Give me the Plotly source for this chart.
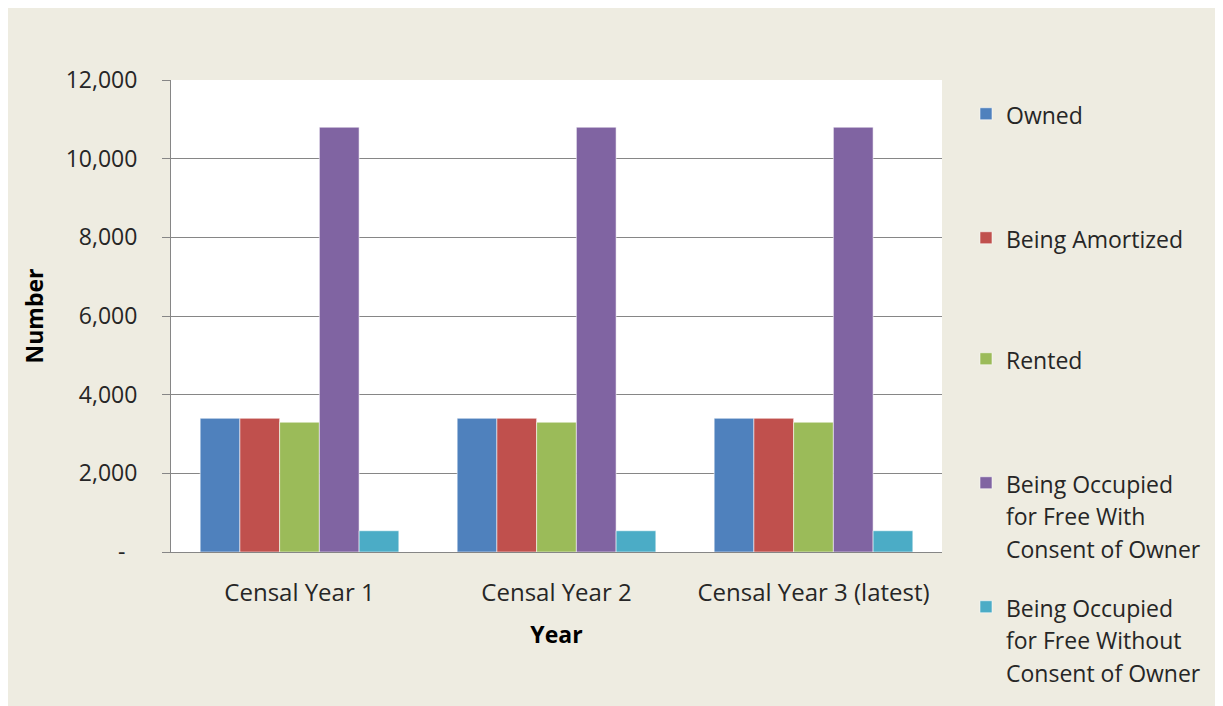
import plotly.graph_objects as go

categories = ["Censal Year 1", "Censal Year 2", "Censal Year 3 (latest)"]
series_names = [
    "Owned",
    "Being Amortized",
    "Rented",
    "Being Occupied<br>for Free With<br>Consent of Owner",
    "Being Occupied<br>for Free Without<br>Consent of Owner",
]
owned = [3400, 3400, 3400]
amortized = [3400, 3400, 3400]
rented = [3300, 3300, 3300]
free_with = [10800, 10800, 10800]
free_without = [540, 540, 540]
y_tickvals = [0, 2000, 4000, 6000, 8000, 10000, 12000]
y_ticktext = ["-\u00a0\u00a0", "2,000", "4,000", "6,000", "8,000", "10,000", "12,000"]

colors = ["#4F81BD", "#C0504D", "#9BBB59", "#8064A2", "#4BACC6"]
values = [owned, amortized, rented, free_with, free_without]

# page offset from default body margin
OX, OY = 8, 8
W, H = 1215, 698
L, R, T, B = 171 - OX, 942 - OX, 80 - OY, 553 - OY


def px_x(page_px):
    return (page_px - OX - L) / (R - L)


def px_y(page_py):
    return (B - (page_py - OY)) / (B - T)


FONT = "Open Sans"
TXT = "#262626"
LEG_SPAN = '<span style="font-size:23px">'

fig = go.Figure()
legend_ids = ["legend", "legend2", "legend3", "legend4", "legend5"]
for name, vals, col, lid in zip(series_names, values, colors, legend_ids):
    fig.add_trace(go.Bar(
        x=categories, y=vals,
        name=LEG_SPAN + name.replace("<br>", "</span><br>" + LEG_SPAN) + "</span>",
        marker=dict(color=col, line=dict(color="rgba(255,255,255,0.55)", width=1)),
        legend=lid,
    ))

legend_first_line = [114, 238, 359, 483, 607]
legend_left_px = 966
layout_legends = {}
for lid, py in zip(legend_ids, legend_first_line):
    layout_legends[lid] = dict(
        x=px_x(legend_left_px), xanchor="left",
        y=px_y(py - 23), yanchor="top",
        valign="top",
        bgcolor="rgba(0,0,0,0)",
        font=dict(family=FONT, size=25, color=TXT),
        itemwidth=30,
    )

fig.update_layout(
    width=W, height=H,
    margin=dict(l=L, r=W - R, t=T, b=H - B),
    paper_bgcolor="#EEECE1",
    plot_bgcolor="#FFFFFF",
    barmode="group",
    bargap=0.227,
    bargroupgap=0,
    showlegend=True,
    font=dict(family=FONT, size=23, color=TXT),
    **layout_legends,
)

fig.update_yaxes(
    range=[0, 12000],
    tickvals=y_tickvals, ticktext=y_ticktext,
    showgrid=True, gridcolor="#868686", gridwidth=1,
    showline=True, linecolor="#868686", linewidth=1,
    ticks="outside", ticklen=8, tickcolor="#868686",
    ticklabelstandoff=20,
    zeroline=False,
    tickfont=dict(family=FONT, size=23, color=TXT),
    title=dict(text="<b>Number</b>", font=dict(family=FONT, size=23, color="#000000"), standoff=15),
    automargin=False,
)
fig.update_xaxes(
    showline=True, linecolor="#868686", linewidth=1,
    ticks="", ticklabelstandoff=19,
    tickfont=dict(family=FONT, size=24, color=TXT),
    title=dict(text="<b>Year</b>", font=dict(family=FONT, size=23, color="#000000"), standoff=20),
    automargin=False,
)

fig.write_html("out.html")
